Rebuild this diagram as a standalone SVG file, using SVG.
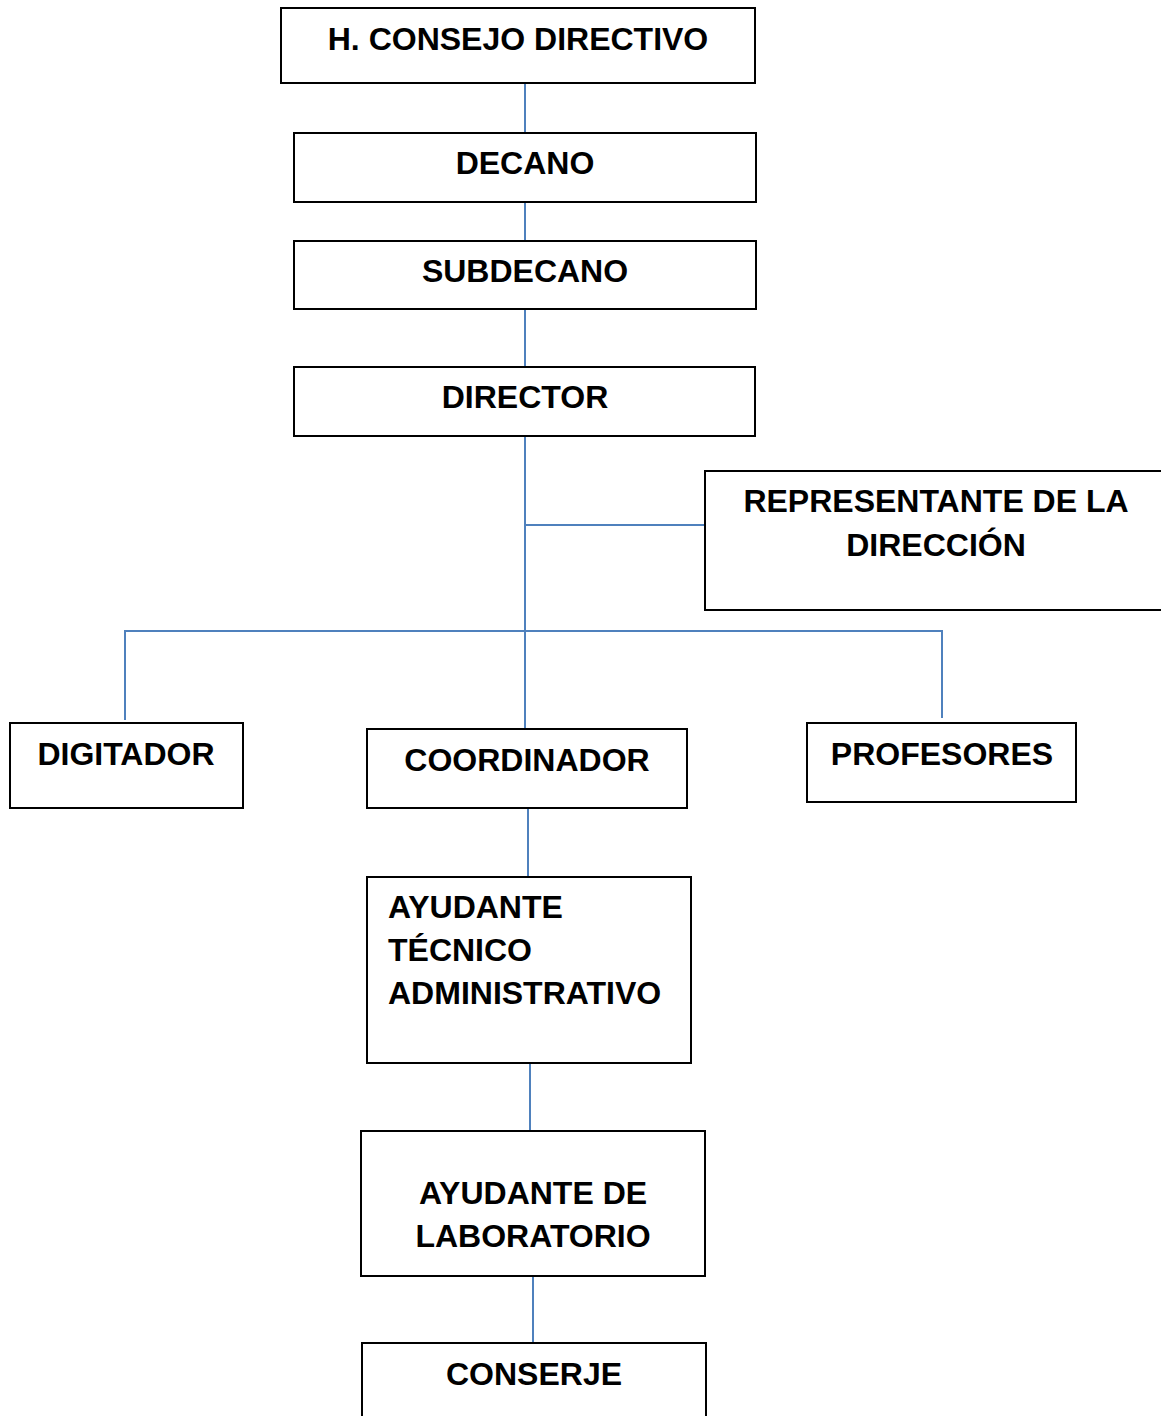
<svg xmlns="http://www.w3.org/2000/svg" width="1161" height="1416" viewBox="0 0 1161 1416">
<style>
.box{fill:#fff;stroke:#000;stroke-width:2}
.t{font-family:"Liberation Sans",Arial,sans-serif;font-weight:bold;font-size:32px;fill:#000}
.c{text-anchor:middle}
.ln{stroke:#4F81BD;stroke-width:2;fill:none}
</style>
<rect width="1161" height="1416" fill="#fff"/>
<g id="connectors">
<line class="ln" x1="525" y1="83" x2="525" y2="133"/>
<line class="ln" x1="525" y1="202" x2="525" y2="241"/>
<line class="ln" x1="525" y1="309" x2="525" y2="367"/>
<line class="ln" x1="525" y1="436" x2="525" y2="729"/>
<line class="ln" x1="525" y1="525" x2="705" y2="525"/>
<polyline class="ln" points="125,720 125,631 942,631 942,718"/>
<line class="ln" x1="528" y1="808" x2="528" y2="877"/>
<line class="ln" x1="530" y1="1063" x2="530" y2="1131"/>
<line class="ln" x1="533" y1="1276" x2="533" y2="1343"/>
</g>
<g id="consejo"><rect class="box" x="281" y="8" width="474" height="75"/><text class="t c" x="518" y="50">H. CONSEJO DIRECTIVO</text></g>
<g id="decano"><rect class="box" x="294" y="133" width="462" height="69"/><text class="t c" x="525" y="174">DECANO</text></g>
<g id="subdecano"><rect class="box" x="294" y="241" width="462" height="68"/><text class="t c" x="525" y="282">SUBDECANO</text></g>
<g id="director"><rect class="box" x="294" y="367" width="461" height="69"/><text class="t c" x="525" y="408">DIRECTOR</text></g>
<g id="representante"><rect class="box" x="705" y="471" width="460" height="139"/><text class="t c" x="936" y="512">REPRESENTANTE DE LA</text><text class="t c" x="936" y="556">DIRECCIÓN</text></g>
<g id="digitador"><rect class="box" x="10" y="723" width="233" height="85"/><text class="t c" x="126" y="765">DIGITADOR</text></g>
<g id="coordinador"><rect class="box" x="367" y="729" width="320" height="79"/><text class="t c" x="527" y="771">COORDINADOR</text></g>
<g id="profesores"><rect class="box" x="807" y="723" width="269" height="79"/><text class="t c" x="942" y="765">PROFESORES</text></g>
<g id="ayudante-tecnico"><rect class="box" x="367" y="877" width="324" height="186"/><text class="t" x="388" y="918">AYUDANTE</text><text class="t" x="388" y="961">TÉCNICO</text><text class="t" x="388" y="1004">ADMINISTRATIVO</text></g>
<g id="ayudante-lab"><rect class="box" x="361" y="1131" width="344" height="145"/><text class="t c" x="533" y="1204">AYUDANTE DE</text><text class="t c" x="533" y="1247">LABORATORIO</text></g>
<g id="conserje"><rect class="box" x="362" y="1343" width="344" height="90"/><text class="t c" x="534" y="1385">CONSERJE</text></g>
</svg>
